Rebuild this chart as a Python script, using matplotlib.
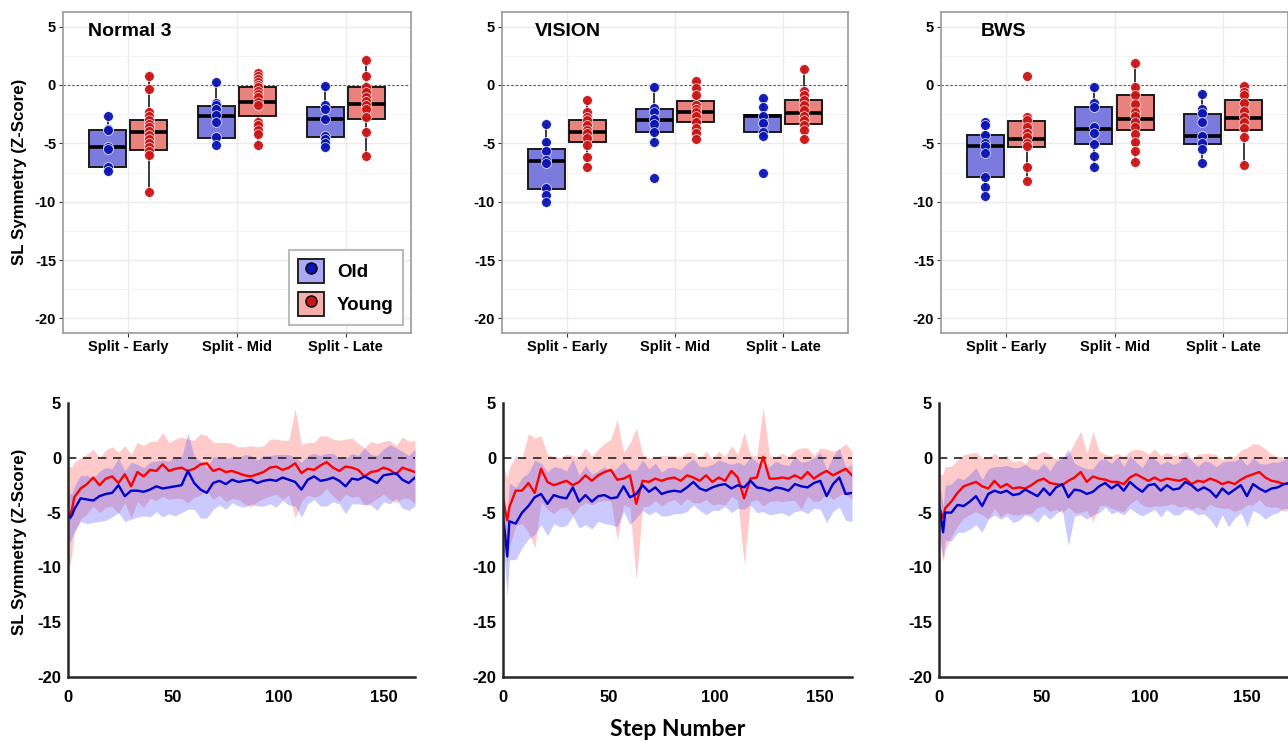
import numpy as np
import matplotlib
matplotlib.use('Agg')
import matplotlib.pyplot as plt
from matplotlib.patches import Patch
from matplotlib.lines import Line2D
from matplotlib.legend_handler import HandlerTuple

plt.rcParams['font.family'] = 'Liberation Sans'
plt.rcParams['font.weight'] = 'bold'
plt.rcParams['axes.unicode_minus'] = False

#### Box plot data (top row)
phases = ['Split - Early', 'Split - Mid', 'Split - Late']
titles = ['Normal 3', 'VISION', 'BWS']

# individual points per phase (early, mid, late)
n3_old_pts = [[-2.7, -3.8, -3.9, -5.3, -5.5, -7.0, -7.4],
              [0.28, -1.53, -1.76, -2.05, -2.61, -3.18, -4.46, -5.17],
              [-0.09, -1.76, -2.05, -2.9, -4.37, -4.66, -4.94, -5.28]]
n3_young_pts = [[0.74, -0.37, -2.33, -2.67, -3.04, -3.38, -3.6, -3.98, -4.32, -4.6, -4.97, -5.31, -5.68, -6.02, -9.15],
                [1.02, 0.74, 0.51, 0.23, 0.0, -0.2, -0.48, -0.77, -1.05, -1.42, -1.76, -3.18, -3.47, -3.89, -4.18, -5.11],
                [2.1, 0.8, -0.2, -0.63, -1.05, -1.34, -1.7, -2.05, -2.76, -4.03, -6.08]]
vis_old_pts = [[-3.32, -4.91, -5.68, -6.45, -6.7, -8.84, -9.43, -10.0],
               [-0.2, -1.96, -2.3, -2.93, -3.38, -4.06, -4.89, -7.98],
               [-1.16, -1.9, -2.67, -3.3, -4.06, -4.35, -7.56]]
vis_young_pts = [[-1.25, -2.3, -2.73, -3.0, -3.44, -3.86, -4.15, -4.57, -5.14, -6.13, -7.07],
                 [0.37, -0.26, -0.88, -1.68, -2.02, -2.3, -2.64, -3.21, -3.66, -4.15, -4.66],
                 [1.34, -0.54, -0.88, -1.3, -1.73, -2.16, -2.64, -3.0, -3.44, -3.86, -4.66]]
bws_old_pts = [[-3.15, -3.44, -4.29, -4.94, -5.23, -5.85, -7.9, -8.78, -9.55],
               [-0.17, -1.53, -1.93, -3.64, -4.09, -5.06, -6.08, -7.05],
               [-0.74, -2.1, -2.44, -3.15, -4.38, -5.0, -5.48, -6.65]]
bws_young_pts = [[0.74, -2.73, -3.01, -3.58, -4.09, -4.49, -5.0, -5.23, -7.07, -8.21],
                 [1.88, -0.17, -0.88, -1.59, -2.3, -2.67, -3.15, -3.58, -4.2, -4.86, -5.63, -6.56],
                 [-0.09, -0.6, -0.88, -1.53, -2.22, -2.73, -3.15, -3.72, -4.43, -6.85]]

# box stats per phase: whisker low, Q1, median, Q3, whisker high
n3_old_box = [[-7.4, -7.02, -5.31, -3.84, -2.67],
              [-5.17, -4.55, -2.64, -1.82, 0.28],
              [-5.28, -4.49, -2.93, -1.93, -0.09]]
n3_young_box = [[-9.15, -5.54, -4.03, -3.04, 0.74],
                [-5.11, -2.64, -1.42, -0.2, 1.02],
                [-6.08, -2.93, -1.65, -0.2, 2.1]]
vis_old_box = [[-10.0, -8.89, -6.5, -5.48, -3.32],
               [-4.89, -4.0, -3.04, -2.05, -0.2],
               [-4.35, -4.06, -2.67, -2.59, -1.16]]
vis_young_box = [[-7.07, -4.86, -4.06, -3.04, -1.25],
                 [-4.66, -3.15, -2.3, -1.34, 0.37],
                 [-4.66, -3.38, -2.44, -1.25, 1.34]]
bws_old_box = [[-9.55, -7.9, -5.23, -4.26, -3.15],
               [-7.05, -5.09, -3.78, -1.88, -0.17],
               [-6.65, -5.06, -4.38, -2.5, -0.74]]
bws_young_box = [[-8.21, -5.34, -4.63, -3.07, -2.73],
                 [-6.56, -3.86, -2.9, -0.82, 1.88],
                 [-6.85, -3.86, -2.84, -1.31, -0.09]]

#### Step-by-step data (bottom row): group mean and SD
steps_short = np.r_[0, 1, 2, np.arange(3, 166, 3)]
steps_long = np.r_[0, 1, 2, np.arange(3, 172, 3)]

n3_young_mean = [-5.0, -5.3, -4.6,
                 -3.6, -2.8, -2.4, -1.8, -2.5, -1.9, -1.7, -2.3, -1.5, -2.6,
                 -1.3, -1.7, -1.1, -1.2, -0.6, -1.2, -1.0, -0.9, -1.2, -1.0,
                 -0.6, -0.5, -1.2, -1.0, -1.3, -1.2, -1.4, -1.6, -1.7, -1.5,
                 -1.3, -0.9, -0.8, -1.1, -0.9, -0.5, -1.4, -1.0, -1.1, -0.7,
                 -0.4, -0.9, -1.2, -0.8, -0.9, -1.1, -1.7, -1.3, -1.2, -0.9,
                 -1.1, -1.5, -0.9, -1.1, -1.3]
n3_young_sd = [4.3, 4.5, 3.8,
               3.2, 2.8, 2.7, 2.6, 2.5, 2.6, 2.7, 2.8, 2.6, 2.9,
               2.7, 2.8, 2.6, 2.7, 2.9, 2.6, 2.7, 2.8, 2.9, 2.6,
               2.8, 2.5, 2.6, 2.4, 2.7, 2.5, 2.4, 2.6, 2.8, 2.5,
               2.4, 2.6, 2.5, 2.7, 2.5, 5.0, 2.6, 2.4, 2.5, 2.7,
               2.4, 2.6, 2.8, 2.5, 2.7, 2.4, 2.6, 2.8, 2.5, 2.4,
               2.7, 2.6, 2.8, 2.6, 2.9]
n3_old_mean = [-5.0, -5.5, -5.2,
               -4.7, -3.7, -3.8, -3.9, -3.5, -3.3, -3.2, -2.5, -3.5, -3.0,
               -3.0, -3.1, -2.9, -2.6, -2.8, -2.7, -2.6, -2.5, -1.2, -2.3,
               -2.9, -3.2, -2.3, -2.1, -2.4, -2.0, -2.2, -2.1, -2.0, -2.3,
               -2.1, -2.0, -2.1, -1.8, -2.0, -2.2, -2.9, -2.0, -1.7, -2.1,
               -2.0, -1.8, -2.1, -2.6, -1.9, -2.0, -1.7, -2.0, -2.3, -1.6,
               -1.5, -1.4, -2.0, -2.3, -1.8]
n3_old_sd = [2.3, 2.2, 2.0,
             2.1, 2.1, 2.2, 2.0, 2.3, 2.4, 2.2, 2.5, 2.3, 2.6,
             2.4, 2.2, 2.5, 2.3, 2.6, 2.4, 2.7, 2.5, 3.5, 2.4,
             2.6, 2.3, 2.4, 2.2, 2.3, 2.1, 2.2, 2.4, 2.2, 2.1,
             2.3, 2.2, 2.4, 2.1, 2.3, 2.2, 2.5, 2.2, 2.1, 2.3,
             2.4, 2.2, 2.1, 2.5, 2.3, 2.2, 2.6, 2.3, 2.5, 2.4,
             2.7, 2.3, 2.6, 2.5, 2.6]

vis_young_mean = [-3.7, -4.8, -5.7,
                  -4.5, -3.0, -3.0, -2.3, -3.2, -1.0, -2.2, -2.5, -2.3, -2.1,
                  -2.5, -2.2, -1.6, -2.1, -1.6, -1.3, -1.1, -2.0, -1.9, -1.6,
                  -4.2, -2.1, -2.2, -1.9, -2.1, -1.9, -1.8, -2.1, -1.6, -1.8,
                  -2.1, -1.6, -2.2, -1.8, -2.1, -1.2, -1.8, -3.7, -1.9, -1.8,
                  0.1, -1.9, -1.9, -1.8, -1.9, -1.6, -1.9, -1.3, -1.9, -1.5,
                  -1.2, -1.6, -1.3, -1.0, -1.6]
vis_young_sd = [3.0, 3.5, 3.8,
                3.6, 3.2, 3.0, 4.5, 5.0, 3.0, 2.5, 2.6, 2.3, 2.4,
                2.7, 2.3, 2.5, 2.2, 2.4, 2.6, 2.8, 5.5, 2.4, 2.9,
                6.9, 2.4, 2.2, 2.0, 2.3, 2.1, 2.0, 2.2, 2.1, 2.3,
                2.0, 2.2, 2.1, 2.4, 2.2, 2.3, 2.1, 6.0, 2.1, 2.0,
                4.5, 2.1, 2.0, 2.2, 2.0, 2.3, 2.8, 2.2, 2.1, 2.4,
                2.0, 2.2, 2.1, 2.3, 2.2]
vis_old_mean = [-5.4, -7.0, -9.0,
                -5.8, -6.0, -5.0, -4.4, -3.6, -3.3, -4.2, -3.4, -3.6, -3.7,
                -2.7, -4.0, -3.4, -4.0, -3.5, -3.4, -3.7, -3.6, -2.6, -3.6,
                -3.3, -2.5, -3.1, -2.7, -3.3, -3.1, -3.0, -3.1, -2.7, -2.2,
                -2.8, -3.0, -2.7, -2.5, -2.4, -2.8, -2.5, -2.7, -2.1, -2.7,
                -2.8, -3.0, -2.7, -2.8, -3.0, -2.4, -2.6, -2.7, -2.3, -2.1,
                -3.5, -2.4, -1.8, -3.3, -3.2]
vis_old_sd = [2.5, 3.0, 3.7,
              3.5, 3.3, 3.2, 3.0, 3.4, 2.8, 2.9, 2.6, 2.7, 2.5,
              2.6, 2.4, 2.7, 2.5, 2.3, 2.6, 2.4, 2.7, 2.3, 2.5,
              2.2, 2.3, 2.1, 2.2, 2.0, 2.2, 2.1, 2.0, 2.2, 2.1,
              2.0, 2.2, 2.1, 2.3, 2.0, 2.2, 2.1, 2.0, 2.2, 2.3,
              2.1, 2.2, 2.4, 2.2, 2.3, 2.5, 2.2, 2.4, 2.3, 2.6,
              2.4, 2.5, 2.7, 2.4, 2.6]

bws_young_mean = [-4.5, -5.0, -5.5,
                  -4.6, -4.0, -3.2, -2.6, -2.4, -2.2, -2.6, -2.8, -2.1, -2.7,
                  -2.4, -2.8, -2.7, -2.8, -2.5, -2.1, -1.9, -2.3, -2.4, -2.5,
                  -2.1, -1.8, -1.3, -2.2, -1.7, -1.9, -2.0, -2.2, -2.2, -2.4,
                  -1.8, -1.5, -1.8, -2.1, -1.8, -2.1, -1.9, -2.0, -2.1, -1.9,
                  -2.4, -2.1, -2.2, -1.9, -2.1, -2.4, -2.2, -2.4, -2.0, -1.7,
                  -1.5, -1.3, -1.8, -2.1, -2.2, -2.4, -2.3]
bws_young_sd = [3.0, 3.5, 4.0,
                3.8, 3.2, 3.0, 2.9, 2.8, 2.7, 2.6, 2.8, 2.5, 2.7,
                2.6, 2.4, 2.5, 2.3, 2.6, 2.4, 2.5, 2.6, 2.3, 2.5,
                2.4, 3.2, 3.7, 2.6, 4.1, 2.5, 2.3, 2.4, 2.6, 2.5,
                2.4, 2.3, 2.5, 2.4, 2.6, 2.3, 2.4, 2.2, 2.4, 2.5,
                2.3, 2.4, 2.6, 2.3, 2.4, 2.2, 2.4, 2.5, 2.7, 2.6,
                2.8, 2.5, 2.6, 2.4, 2.3, 2.5, 2.4]
bws_old_mean = [-4.3, -5.5, -6.8,
                -5.0, -5.0, -4.3, -4.4, -4.0, -3.5, -4.4, -3.3, -3.0, -3.2,
                -3.0, -3.4, -3.3, -2.9, -3.2, -3.5, -2.8, -3.4, -2.7, -2.4,
                -3.6, -2.9, -3.0, -3.3, -3.1, -2.6, -2.3, -2.8, -2.4, -3.0,
                -2.2, -2.7, -3.1, -2.5, -2.4, -3.0, -2.5, -2.9, -2.8, -2.2,
                -2.5, -3.0, -2.7, -3.0, -3.6, -2.8, -3.3, -2.9, -2.5, -3.5,
                -2.4, -2.8, -3.1, -2.8, -2.7, -2.4, -2.3]
bws_old_sd = [2.5, 2.3, 2.4,
              2.5, 2.6, 2.5, 2.4, 2.5, 2.6, 2.4, 2.3, 2.2, 2.4,
              2.3, 2.5, 2.4, 2.3, 2.2, 2.4, 2.3, 2.2, 2.4, 2.3,
              4.4, 2.4, 2.2, 2.3, 2.1, 2.4, 2.2, 2.3, 2.5, 2.2,
              2.4, 2.3, 2.2, 2.5, 2.3, 2.4, 2.2, 2.3, 2.4, 2.5,
              2.3, 2.2, 2.4, 2.6, 2.8, 2.4, 3.0, 2.6, 2.5, 2.8,
              2.4, 2.3, 2.5, 2.4, 2.3, 2.2, 2.4]

#### Colours
OLD_FILL, YOUNG_FILL = '#7B7BDE', '#E9827C'
OLD_PT, YOUNG_PT = '#0A14B4', '#CC1414'
OLD_LINE, YOUNG_LINE = '#0000CC', '#FF0000'

#### Sets up the figure (pixel boxes -> figure fractions)
W, H = 1288, 742
fig = plt.figure(figsize=(12.88, 7.42), dpi=100, facecolor='white')


def box(x0, y0, x1, y1):
    return [x0 / W, 1 - y1 / H, (x1 - x0) / W, (y1 - y0) / H]


top_axes = [fig.add_axes(box(63, 12, 411, 333)),
            fig.add_axes(box(502, 12, 848, 333)),
            fig.add_axes(box(941, 12, 1288, 333))]
bot_axes = [fig.add_axes(box(68, 403, 415, 677)),
            fig.add_axes(box(503, 403, 852, 677)),
            fig.add_axes(box(939, 403, 1288, 677))]

title_x = [0.072, 0.095, 0.115]
old_pts_all = [n3_old_pts, vis_old_pts, bws_old_pts]
young_pts_all = [n3_young_pts, vis_young_pts, bws_young_pts]
old_box_all = [n3_old_box, vis_old_box, bws_old_box]
young_box_all = [n3_young_box, vis_young_box, bws_young_box]


def to_stats(b):
    return {'whislo': b[0], 'q1': b[1], 'med': b[2], 'q3': b[3], 'whishi': b[4], 'fliers': []}


#### Top row: box plots
for k, ax in enumerate(top_axes):
    ax.set_xlim(0.4, 3.6)
    ax.set_ylim(-21.25, 6.25)
    ax.set_yticks([-20, -15, -10, -5, 0, 5])
    ax.set_yticks([-17.5, -12.5, -7.5, -2.5, 2.5], minor=True)
    ax.set_xticks([1, 2, 3])
    ax.set_xticklabels(phases)
    ax.grid(True, which='major', color='#EBEBEB', lw=1.0, zorder=0)
    ax.grid(True, which='minor', axis='y', color='#F3F3F3', lw=0.6, zorder=0)
    ax.set_axisbelow(True)
    for s in ax.spines.values():
        s.set_color('#9A9A9A')
        s.set_linewidth(1.2)
    ax.tick_params(which='major', length=3, color='#333333', labelsize=10.5, pad=2)
    ax.tick_params(which='minor', length=0)
    ax.axhline(0, color='#555555', lw=0.8, ls=(0, (2, 2)), zorder=1)

    for i in range(3):
        for pts, b, off, fill, pc in [(old_pts_all[k][i], old_box_all[k][i], -0.19, OLD_FILL, OLD_PT),
                                      (young_pts_all[k][i], young_box_all[k][i], 0.19, YOUNG_FILL, YOUNG_PT)]:
            pos = i + 1 + off
            ax.bxp([to_stats(b)], positions=[pos], widths=0.34, patch_artist=True,
                   showcaps=False, showfliers=False, manage_ticks=False,
                   boxprops=dict(facecolor=fill, edgecolor='#1A1A1A', linewidth=1.4),
                   medianprops=dict(color='black', linewidth=2.6, solid_capstyle='butt'),
                   whiskerprops=dict(color='#1A1A1A', linewidth=1.2))
            ax.scatter(np.full(len(pts), pos), pts, s=50, color=pc, edgecolors='white',
                       linewidths=0.5, alpha=0.95, zorder=4)

    ax.text(title_x[k], 0.94, titles[k], transform=ax.transAxes, fontsize=14,
            fontweight='bold', ha='left', va='center')

#### Legend in the first panel
handles = [(Patch(facecolor='#A9A9F5', edgecolor='#222222', lw=1.4),
            Line2D([], [], marker='o', ls='', markerfacecolor=OLD_PT, markeredgecolor='black', markersize=8)),
           (Patch(facecolor='#F5AFAA', edgecolor='#222222', lw=1.4),
            Line2D([], [], marker='o', ls='', markerfacecolor=YOUNG_PT, markeredgecolor='black', markersize=8))]
leg = top_axes[0].legend(handles, ['Old', 'Young'], handler_map={tuple: HandlerTuple(ndivide=1, pad=0)},
                         loc='lower right', bbox_to_anchor=(1 - 8 / 348, 8 / 321), borderaxespad=0,
                         fontsize=13.5, handlelength=1.35, handleheight=1.6, labelspacing=0.45,
                         handletextpad=0.7, borderpad=0.5, fancybox=False, framealpha=1)
leg.get_frame().set_edgecolor('#BBBBBB')
leg.get_frame().set_linewidth(1.5)

#### Bottom row: step-by-step traces
series = [(steps_short, n3_old_mean, n3_old_sd, n3_young_mean, n3_young_sd, 165),
          (steps_short, vis_old_mean, vis_old_sd, vis_young_mean, vis_young_sd, 165),
          (steps_long, bws_old_mean, bws_old_sd, bws_young_mean, bws_young_sd, 170)]

for ax, (st, om, osd, ym, ysd, xmax) in zip(bot_axes, series):
    om, osd, ym, ysd = map(np.array, (om, osd, ym, ysd))
    ax.fill_between(st, ym - ysd, ym + ysd, color='#FF5050', alpha=0.3, lw=0)
    ax.fill_between(st, om - osd, om + osd, color='#5050FF', alpha=0.3, lw=0)
    ax.axhline(0, color='#222222', lw=1.2, dashes=(5, 4))
    ax.plot(st, ym, color=YOUNG_LINE, lw=1.7)
    ax.plot(st, om, color=OLD_LINE, lw=1.7)
    ax.set_xlim(0, xmax)
    ax.set_ylim(-20, 5)
    ax.set_yticks([-20, -15, -10, -5, 0, 5])
    ax.set_xticks([0, 50, 100, 150])
    ax.spines['top'].set_visible(False)
    ax.spines['right'].set_visible(False)
    for s in ('left', 'bottom'):
        ax.spines[s].set_color('#262626')
        ax.spines[s].set_linewidth(1.8)
    ax.tick_params(axis='y', length=0, labelsize=12, pad=5)
    ax.tick_params(axis='x', length=0, labelsize=12, pad=9)

#### Shared labels
fig.text(20 / W, 1 - 172 / H, 'SL Symmetry (Z-Score)', rotation=90, ha='center', va='center',
         fontsize=12.2, fontweight='bold')
fig.text(20 / W, 1 - 542 / H, 'SL Symmetry (Z-Score)', rotation=90, ha='center', va='center',
         fontsize=12.2, fontweight='bold')
fig.text(678 / W, 1 - 730 / H, 'Step Number', ha='center', va='center', fontsize=16.5,
         fontweight='bold', family='Lato')

plt.savefig('out.png', dpi=100, facecolor='white')
